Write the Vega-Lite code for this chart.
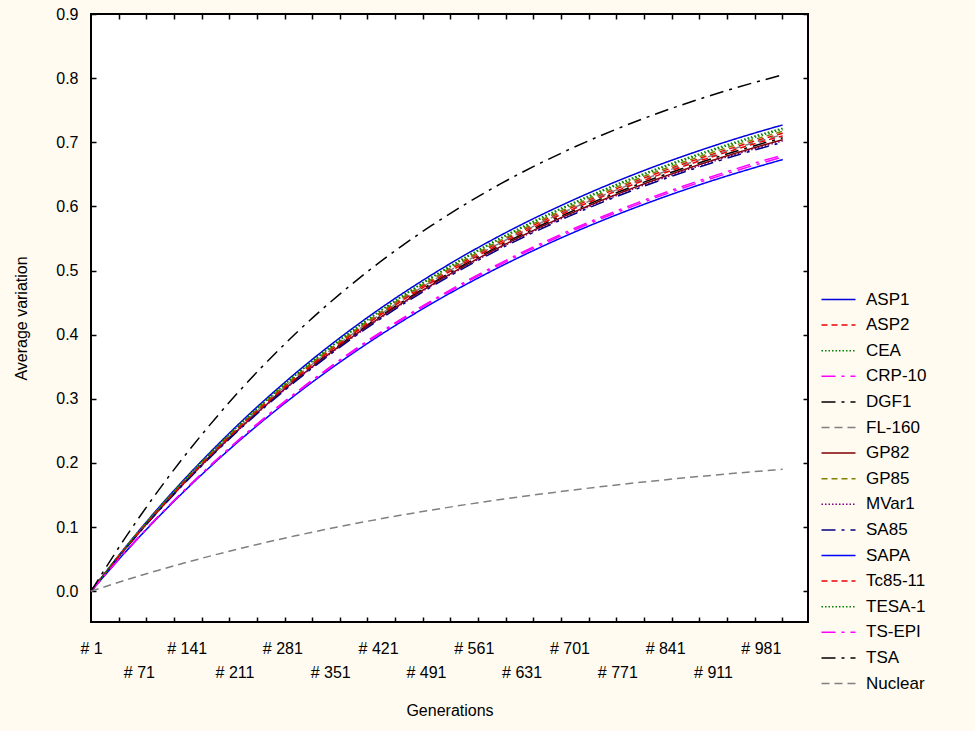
{
  "$schema": "https://vega.github.io/schema/vega-lite/v6.json",
  "width": 717,
  "height": 608,
  "autosize": "none",
  "padding": {"left": 91, "top": 14, "right": 167, "bottom": 109},
  "background": "#fffbf0",
  "config": {
    "view": {"fill": "white", "stroke": "black", "strokeWidth": 2},
    "font": "Liberation Sans",
    "axis": {"labelFont": "Liberation Sans", "labelFontSize": 16, "labelColor": "black", "titleFont": "Liberation Sans", "titleFontSize": 16, "titleFontWeight": "normal", "titleColor": "black", "grid": false, "domain": false, "tickColor": "black", "tickWidth": 1.5},
    "legend": {"labelFont": "Liberation Sans", "labelFontSize": 17, "labelColor": "black"}
  },
  "datasets": {
    "pts": [
      {"s":"ASP1","g":1,"v":0},{"s":"ASP1","g":50,"v":0.0669},{"s":"ASP1","g":100,"v":0.1302},{"s":"ASP1","g":200,"v":0.2429},{"s":"ASP1","g":300,"v":0.3397},{"s":"ASP1","g":400,"v":0.4226},{"s":"ASP1","g":500,"v":0.4937},{"s":"ASP1","g":600,"v":0.5547},{"s":"ASP1","g":700,"v":0.6069},{"s":"ASP1","g":800,"v":0.6518},{"s":"ASP1","g":900,"v":0.6902},{"s":"ASP1","g":1000,"v":0.7231},{"s":"ASP1","g":1013,"v":0.727},
      {"s":"ASP2","g":1,"v":0},{"s":"ASP2","g":50,"v":0.0657},{"s":"ASP2","g":100,"v":0.1278},{"s":"ASP2","g":200,"v":0.2386},{"s":"ASP2","g":300,"v":0.3336},{"s":"ASP2","g":400,"v":0.415},{"s":"ASP2","g":500,"v":0.4848},{"s":"ASP2","g":600,"v":0.5447},{"s":"ASP2","g":700,"v":0.596},{"s":"ASP2","g":800,"v":0.6401},{"s":"ASP2","g":900,"v":0.6778},{"s":"ASP2","g":1000,"v":0.7102},{"s":"ASP2","g":1013,"v":0.714},
      {"s":"CEA","g":1,"v":0},{"s":"CEA","g":50,"v":0.0664},{"s":"CEA","g":100,"v":0.1293},{"s":"CEA","g":200,"v":0.2413},{"s":"CEA","g":300,"v":0.3373},{"s":"CEA","g":400,"v":0.4197},{"s":"CEA","g":500,"v":0.4903},{"s":"CEA","g":600,"v":0.5509},{"s":"CEA","g":700,"v":0.6027},{"s":"CEA","g":800,"v":0.6473},{"s":"CEA","g":900,"v":0.6854},{"s":"CEA","g":1000,"v":0.7182},{"s":"CEA","g":1013,"v":0.722},
      {"s":"CRP-10","g":1,"v":0},{"s":"CRP-10","g":50,"v":0.0601},{"s":"CRP-10","g":100,"v":0.1173},{"s":"CRP-10","g":200,"v":0.2201},{"s":"CRP-10","g":300,"v":0.3092},{"s":"CRP-10","g":400,"v":0.3865},{"s":"CRP-10","g":500,"v":0.4535},{"s":"CRP-10","g":600,"v":0.5115},{"s":"CRP-10","g":700,"v":0.5619},{"s":"CRP-10","g":800,"v":0.6055},{"s":"CRP-10","g":900,"v":0.6434},{"s":"CRP-10","g":1000,"v":0.6761},{"s":"CRP-10","g":1013,"v":0.68},
      {"s":"DGF1","g":1,"v":0},{"s":"DGF1","g":50,"v":0.065},{"s":"DGF1","g":100,"v":0.1266},{"s":"DGF1","g":200,"v":0.2362},{"s":"DGF1","g":300,"v":0.3303},{"s":"DGF1","g":400,"v":0.4109},{"s":"DGF1","g":500,"v":0.4801},{"s":"DGF1","g":600,"v":0.5394},{"s":"DGF1","g":700,"v":0.5902},{"s":"DGF1","g":800,"v":0.6338},{"s":"DGF1","g":900,"v":0.6711},{"s":"DGF1","g":1000,"v":0.7032},{"s":"DGF1","g":1013,"v":0.707},
      {"s":"FL-160","g":1,"v":0},{"s":"FL-160","g":50,"v":0.0655},{"s":"FL-160","g":100,"v":0.1275},{"s":"FL-160","g":200,"v":0.2379},{"s":"FL-160","g":300,"v":0.3326},{"s":"FL-160","g":400,"v":0.4138},{"s":"FL-160","g":500,"v":0.4835},{"s":"FL-160","g":600,"v":0.5432},{"s":"FL-160","g":700,"v":0.5944},{"s":"FL-160","g":800,"v":0.6383},{"s":"FL-160","g":900,"v":0.6759},{"s":"FL-160","g":1000,"v":0.7082},{"s":"FL-160","g":1013,"v":0.712},
      {"s":"GP82","g":1,"v":0},{"s":"GP82","g":50,"v":0.0648},{"s":"GP82","g":100,"v":0.126},{"s":"GP82","g":200,"v":0.2352},{"s":"GP82","g":300,"v":0.3289},{"s":"GP82","g":400,"v":0.4092},{"s":"GP82","g":500,"v":0.478},{"s":"GP82","g":600,"v":0.5371},{"s":"GP82","g":700,"v":0.5877},{"s":"GP82","g":800,"v":0.6311},{"s":"GP82","g":900,"v":0.6683},{"s":"GP82","g":1000,"v":0.7002},{"s":"GP82","g":1013,"v":0.704},
      {"s":"GP85","g":1,"v":0},{"s":"GP85","g":50,"v":0.066},{"s":"GP85","g":100,"v":0.1284},{"s":"GP85","g":200,"v":0.2396},{"s":"GP85","g":300,"v":0.335},{"s":"GP85","g":400,"v":0.4167},{"s":"GP85","g":500,"v":0.4869},{"s":"GP85","g":600,"v":0.547},{"s":"GP85","g":700,"v":0.5985},{"s":"GP85","g":800,"v":0.6428},{"s":"GP85","g":900,"v":0.6807},{"s":"GP85","g":1000,"v":0.7132},{"s":"GP85","g":1013,"v":0.717},
      {"s":"MVar1","g":1,"v":0},{"s":"MVar1","g":50,"v":0.0646},{"s":"MVar1","g":100,"v":0.1257},{"s":"MVar1","g":200,"v":0.2346},{"s":"MVar1","g":300,"v":0.328},{"s":"MVar1","g":400,"v":0.408},{"s":"MVar1","g":500,"v":0.4767},{"s":"MVar1","g":600,"v":0.5356},{"s":"MVar1","g":700,"v":0.586},{"s":"MVar1","g":800,"v":0.6293},{"s":"MVar1","g":900,"v":0.6664},{"s":"MVar1","g":1000,"v":0.6983},{"s":"MVar1","g":1013,"v":0.702},
      {"s":"SA85","g":1,"v":0},{"s":"SA85","g":50,"v":0.0644},{"s":"SA85","g":100,"v":0.1253},{"s":"SA85","g":200,"v":0.2339},{"s":"SA85","g":300,"v":0.327},{"s":"SA85","g":400,"v":0.4069},{"s":"SA85","g":500,"v":0.4753},{"s":"SA85","g":600,"v":0.5341},{"s":"SA85","g":700,"v":0.5844},{"s":"SA85","g":800,"v":0.6276},{"s":"SA85","g":900,"v":0.6645},{"s":"SA85","g":1000,"v":0.6963},{"s":"SA85","g":1013,"v":0.7},
      {"s":"SAPA","g":1,"v":0},{"s":"SAPA","g":50,"v":0.0595},{"s":"SAPA","g":100,"v":0.1161},{"s":"SAPA","g":200,"v":0.2178},{"s":"SAPA","g":300,"v":0.306},{"s":"SAPA","g":400,"v":0.3825},{"s":"SAPA","g":500,"v":0.4488},{"s":"SAPA","g":600,"v":0.5062},{"s":"SAPA","g":700,"v":0.5561},{"s":"SAPA","g":800,"v":0.5992},{"s":"SAPA","g":900,"v":0.6367},{"s":"SAPA","g":1000,"v":0.6691},{"s":"SAPA","g":1013,"v":0.673},
      {"s":"Tc85-11","g":1,"v":0},{"s":"Tc85-11","g":50,"v":0.0653},{"s":"Tc85-11","g":100,"v":0.1271},{"s":"Tc85-11","g":200,"v":0.2372},{"s":"Tc85-11","g":300,"v":0.3317},{"s":"Tc85-11","g":400,"v":0.4127},{"s":"Tc85-11","g":500,"v":0.4821},{"s":"Tc85-11","g":600,"v":0.5417},{"s":"Tc85-11","g":700,"v":0.5927},{"s":"Tc85-11","g":800,"v":0.6365},{"s":"Tc85-11","g":900,"v":0.674},{"s":"Tc85-11","g":1000,"v":0.7062},{"s":"Tc85-11","g":1013,"v":0.71},
      {"s":"TESA-1","g":1,"v":0},{"s":"TESA-1","g":50,"v":0.0662},{"s":"TESA-1","g":100,"v":0.1289},{"s":"TESA-1","g":200,"v":0.2406},{"s":"TESA-1","g":300,"v":0.3364},{"s":"TESA-1","g":400,"v":0.4185},{"s":"TESA-1","g":500,"v":0.4889},{"s":"TESA-1","g":600,"v":0.5493},{"s":"TESA-1","g":700,"v":0.601},{"s":"TESA-1","g":800,"v":0.6455},{"s":"TESA-1","g":900,"v":0.6835},{"s":"TESA-1","g":1000,"v":0.7162},{"s":"TESA-1","g":1013,"v":0.72},
      {"s":"TS-EPI","g":1,"v":0},{"s":"TS-EPI","g":50,"v":0.0599},{"s":"TS-EPI","g":100,"v":0.1168},{"s":"TS-EPI","g":200,"v":0.2191},{"s":"TS-EPI","g":300,"v":0.3079},{"s":"TS-EPI","g":400,"v":0.3848},{"s":"TS-EPI","g":500,"v":0.4515},{"s":"TS-EPI","g":600,"v":0.5093},{"s":"TS-EPI","g":700,"v":0.5594},{"s":"TS-EPI","g":800,"v":0.6028},{"s":"TS-EPI","g":900,"v":0.6405},{"s":"TS-EPI","g":1000,"v":0.6731},{"s":"TS-EPI","g":1013,"v":0.677},
      {"s":"TSA","g":1,"v":0},{"s":"TSA","g":50,"v":0.0815},{"s":"TSA","g":100,"v":0.1576},{"s":"TSA","g":200,"v":0.2905},{"s":"TSA","g":300,"v":0.4014},{"s":"TSA","g":400,"v":0.4937},{"s":"TSA","g":500,"v":0.5707},{"s":"TSA","g":600,"v":0.635},{"s":"TSA","g":700,"v":0.6885},{"s":"TSA","g":800,"v":0.7332},{"s":"TSA","g":900,"v":0.7704},{"s":"TSA","g":1000,"v":0.8014},{"s":"TSA","g":1013,"v":0.805},
      {"s":"Nuclear","g":1,"v":0},{"s":"Nuclear","g":50,"v":0.0168},{"s":"Nuclear","g":100,"v":0.0328},{"s":"Nuclear","g":200,"v":0.0615},{"s":"Nuclear","g":300,"v":0.0864},{"s":"Nuclear","g":400,"v":0.108},{"s":"Nuclear","g":500,"v":0.1267},{"s":"Nuclear","g":600,"v":0.143},{"s":"Nuclear","g":700,"v":0.157},{"s":"Nuclear","g":800,"v":0.1692},{"s":"Nuclear","g":900,"v":0.1798},{"s":"Nuclear","g":1000,"v":0.1889},{"s":"Nuclear","g":1013,"v":0.19}
    ],
    "anchor": [{"g": 1, "v": 0}]
  },
  "layer": [
    {
      "data": {"name": "pts"},
      "mark": {"type": "line", "strokeWidth": 1.5, "interpolate": "monotone"},
      "encoding": {
        "x": {"field": "g", "type": "quantitative",
          "scale": {"domain": [1, 1050], "nice": false, "zero": false},
          "axis": {"orient": "bottom", "values": [1,71,141,211,281,351,421,491,561,631,701,771,841,911,981],
            "labelExpr": "'# ' + datum.value", "ticks": false, "labelFlush": false, "labelOverlap": false,
            "labelPadding": {"condition": {"test": "(datum.value - 1) % 140 === 70", "value": 42}, "value": 18},
            "title": "Generations", "titlePadding": 22}},
        "y": {"field": "v", "type": "quantitative",
          "scale": {"domain": [-0.048, 0.9], "nice": false, "zero": false},
          "axis": {"orient": "left", "values": [0,0.1,0.2,0.3,0.4,0.5,0.6,0.7,0.8,0.9], "format": ".1f",
            "tickSize": -5, "labelPadding": 18, "title": "Average variation", "titlePadding": 26}},
        "color": {"field": "s", "type": "nominal",
          "scale": {"domain": ["ASP1","ASP2","CEA","CRP-10","DGF1","FL-160","GP82","GP85","MVar1","SA85","SAPA","Tc85-11","TESA-1","TS-EPI","TSA","Nuclear"],
            "range": ["#0000dd","#ee0000","#008000","#ff00ff","#000000","#808080","#800000","#808000","#800080","#000080","#0000ff","#ee0000","#008000","#ff00ff","#000000","#808080"]},
          "legend": {"orient": "none", "legendX": 738, "legendY": 276, "title": null, "symbolType": "M-2,0H2", "symbolSize": 289, "symbolStrokeWidth": 1.5, "labelOffset": 18, "rowPadding": 7.6}},
        "strokeDash": {"field": "s", "type": "nominal",
          "scale": {"domain": ["ASP1","ASP2","CEA","CRP-10","DGF1","FL-160","GP82","GP85","MVar1","SA85","SAPA","Tc85-11","TESA-1","TS-EPI","TSA","Nuclear"],
            "range": [[1,0],[6,4],[1.5,2],[14,6,3,6],[14,6,3,6],[8,5],[1,0],[6,4],[1.5,2],[14,6,3,6],[1,0],[6,4],[1.5,2],[14,6,3,6],[14,6,3,6],[8,5]]},
          "legend": {"orient": "none", "legendX": 738, "legendY": 276, "title": null, "symbolType": "M-2,0H2", "symbolSize": 289, "symbolStrokeWidth": 1.5, "labelOffset": 18, "rowPadding": 7.6}}
      }
    },
    {
      "data": {"name": "anchor"},
      "mark": {"type": "point", "opacity": 0},
      "encoding": {
        "x": {"field": "g", "type": "quantitative",
          "scale": {"domain": [1, 1050], "nice": false, "zero": false},
          "axis": {"orient": "top", "values": [41.5,81.9,122.4,162.8,203.3,243.7,284.2,324.6,365.1,405.5,446,486.4,526.9,567.3,607.8,648.2,688.7,729.1,769.6,810,850.5,890.9,931.4,971.8,1012.3],
            "labels": false, "tickSize": -5, "title": null}},
        "y": {"field": "v", "type": "quantitative",
          "scale": {"domain": [-0.048, 0.9], "nice": false, "zero": false},
          "axis": {"orient": "right", "values": [0,0.1,0.2,0.3,0.4,0.5,0.6,0.7,0.8,0.9], "labels": false, "tickSize": -5, "title": null}}
      }
    },
    {
      "data": {"name": "anchor"},
      "mark": {"type": "point", "opacity": 0},
      "encoding": {
        "x": {"field": "g", "type": "quantitative",
          "scale": {"domain": [1, 1050], "nice": false, "zero": false},
          "axis": {"orient": "bottom", "values": [41.5,81.9,122.4,162.8,203.3,243.7,284.2,324.6,365.1,405.5,446,486.4,526.9,567.3,607.8,648.2,688.7,729.1,769.6,810,850.5,890.9,931.4,971.8,1012.3],
            "labels": false, "tickSize": -5, "title": null}}
      }
    }
  ],
  "resolve": {"axis": {"x": "independent", "y": "independent"}}
}
